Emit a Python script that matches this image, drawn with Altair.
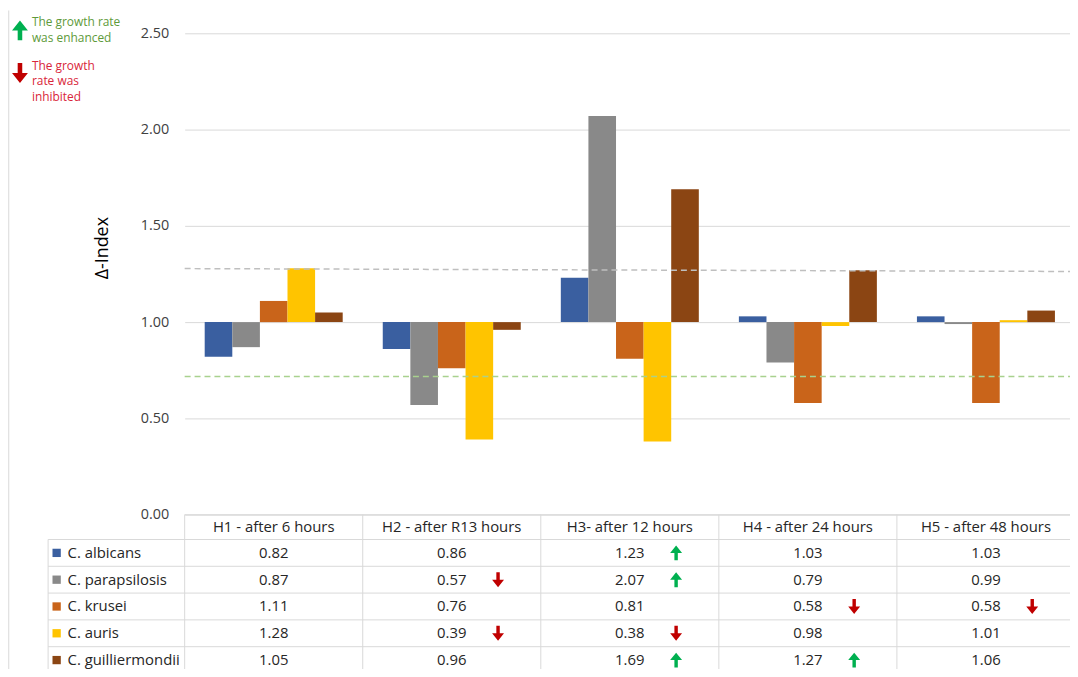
import altair as alt
import pandas as pd

# ---------------- data ----------------
categories = ["H1 - after 6 hours", "H2 - after R13 hours", "H3- after 12 hours",
              "H4 - after 24 hours", "H5 - after 48 hours"]
species = ["C. albicans", "C. parapsilosis", "C. krusei", "C. auris", "C. guilliermondii"]
albicans = [0.82, 0.86, 1.23, 1.03, 1.03]
parapsilosis = [0.87, 0.57, 2.07, 0.79, 0.99]
krusei = [1.11, 0.76, 0.81, 0.58, 0.58]
auris = [1.28, 0.39, 0.38, 0.98, 1.01]
guilliermondii = [1.05, 0.96, 1.69, 1.27, 1.06]
series_values = [albicans, parapsilosis, krusei, auris, guilliermondii]
colors = ["#3A5FA0", "#898989", "#C9641A", "#FFC400", "#8B4513"]

# cells flagged with arrows: (species, category index)
arrows_up = [("C. albicans", 2), ("C. parapsilosis", 2), ("C. guilliermondii", 2), ("C. guilliermondii", 3)]
arrows_down = [("C. parapsilosis", 1), ("C. auris", 1), ("C. auris", 2), ("C. krusei", 3), ("C. krusei", 4)]

upper_threshold = [1.278, 1.263]   # start, end of the grey dashed line
lower_threshold = 0.718
baseline = 1.0
y_ticks = [0.0, 0.5, 1.0, 1.5, 2.0, 2.5]
legend_up = ["The growth rate", "was enhanced"]
legend_down = ["The growth", "rate was", "inhibited"]

# ---------------- layout ----------------
FONT = "Open Sans"
W, H = 892, 638
SPAN = 897
PX = 194.0
Y_MAX = 2.5
Y_MIN = Y_MAX - H / PX
HEADER_H = 25 / PX
ROW_H = 27 / PX
LABEL_EDGE = -0.767
BOTTOM = Y_MIN - 0.3
TOP = Y_MAX + 23 / PX
GRID = "#D9D9D9"
GREEN = "#00B050"
RED = "#C00000"
TXT = "#262626"

UP = "M-0.23,1L-0.23,0L-0.8,0L0,-1L0.8,0L0.23,0L0.23,1Z"
DOWN = "M-0.23,-1L-0.23,0L-0.8,0L0,1L0.8,0L0.23,0L0.23,-1Z"

yscale = alt.Scale(domain=[Y_MIN, Y_MAX], nice=False, zero=False)
xq = alt.Scale(domain=[0, 5], range=[0, SPAN], nice=False, zero=False)


def row_center(j):
    return -(HEADER_H + ROW_H * (j + 0.5))


# ---------------- tables ----------------
bar_df = pd.DataFrame([
    {"category": c, "species": s, "value": vals[i]}
    for s, vals in zip(species, series_values)
    for i, c in enumerate(categories)
])

header_df = pd.DataFrame({"x": [i + 0.5 for i in range(5)],
                          "y": [-HEADER_H / 2] * 5,
                          "text": categories})

cells_df = pd.DataFrame([
    {"x": i + 0.5, "y": row_center(j), "text": f"{vals[i]:.2f}"}
    for j, vals in enumerate(series_values)
    for i in range(5)
])

labels_df = pd.DataFrame({"species": species,
                          "xs": [-0.719] * 5,
                          "xt": [-0.658] * 5,
                          "y": [row_center(j) for j in range(5)]})

lines = [{"x": 0, "x2": 5, "y": 0.0, "y2": 0.0}]
for k in range(6):
    yy = -(HEADER_H + ROW_H * k)
    lines.append({"x": LABEL_EDGE, "x2": 5, "y": yy, "y2": yy})
lines.append({"x": LABEL_EDGE, "x2": LABEL_EDGE, "y": -HEADER_H, "y2": BOTTOM})
for i in range(6):
    lines.append({"x": i, "x2": i, "y": 0.0, "y2": BOTTOM})
lines.append({"x": -0.988, "x2": -0.988, "y": TOP, "y2": BOTTOM})
lines_df = pd.DataFrame(lines)

up_df = pd.DataFrame([{"x": i + 0.76, "y": row_center(species.index(s))} for s, i in arrows_up])
down_df = pd.DataFrame([{"x": i + 0.76, "y": row_center(species.index(s))} for s, i in arrows_down])

thr_grey = pd.DataFrame({"x": [0], "x2": [5], "y": [upper_threshold[0]], "y2": [upper_threshold[1]]})
thr_green = pd.DataFrame({"x": [0], "x2": [5], "y": [lower_threshold], "y2": [lower_threshold]})

leg_up_txt = pd.DataFrame({"x": [-0.858] * 2, "y": [2.557, 2.474], "text": legend_up})
leg_down_txt = pd.DataFrame({"x": [-0.858] * 3, "y": [2.330, 2.253, 2.170], "text": legend_down})
leg_up_arrow = pd.DataFrame({"x": [-0.925], "y": [2.515]})
leg_down_arrow = pd.DataFrame({"x": [-0.925], "y": [2.294]})

# ---------------- layers ----------------
yaxis = alt.Axis(values=y_ticks, format=".2f", grid=True, gridColor=GRID, gridWidth=1,
                 domain=False, ticks=False, labelPadding=16, labelFont=FONT,
                 labelFontSize=14.5, labelColor="#404040", title="Δ-Index",
                 titleFont=FONT, titleFontSize=18, titleFontWeight="normal",
                 titleColor="#000000", titleX=-83, titleY=216,
                 titleAlign="center", titleBaseline="middle")

color_scale = alt.Scale(domain=species, range=colors)

bars = alt.Chart(bar_df).mark_bar().encode(
    x=alt.X("category:N", sort=categories,
            scale=alt.Scale(domain=categories, range=[0, SPAN], paddingInner=0.225, paddingOuter=0.1125),
            axis=None),
    xOffset=alt.XOffset("species:N", sort=species,
                        scale=alt.Scale(domain=species, paddingInner=0, paddingOuter=0)),
    y=alt.Y("value:Q", scale=yscale, axis=yaxis),
    y2=alt.datum(baseline),
    color=alt.Color("species:N", scale=color_scale, legend=None),
)


def qenc(chart, with_x2=False, with_y2=False, xfield="x"):
    enc = dict(x=alt.X(f"{xfield}:Q", scale=xq, axis=None), y=alt.Y("y:Q", scale=yscale, axis=yaxis))
    if with_x2:
        enc["x2"] = alt.X2("x2:Q")
    if with_y2:
        enc["y2"] = alt.Y2("y2:Q")
    return chart.encode(**enc)


rules = qenc(alt.Chart(lines_df).mark_rule(color=GRID, strokeWidth=1), True, True)
grey_thr = qenc(alt.Chart(thr_grey).mark_rule(color="#BFBFBF", strokeWidth=1.5, strokeDash=[6, 4]), True, True)
green_thr = qenc(alt.Chart(thr_green).mark_rule(color="#A9D18E", strokeWidth=1.5, strokeDash=[6, 4]), True, True)

header = qenc(alt.Chart(header_df).mark_text(font=FONT, fontSize=15, color=TXT, baseline="middle")).encode(text="text:N")
cells = qenc(alt.Chart(cells_df).mark_text(font=FONT, fontSize=15, color=TXT, baseline="middle")).encode(text="text:N")

squares = qenc(alt.Chart(labels_df).mark_square(size=70, opacity=1, filled=True), xfield="xs").encode(
    color=alt.Color("species:N", scale=color_scale, legend=None),
)
label_text = qenc(alt.Chart(labels_df).mark_text(font=FONT, fontSize=15, color=TXT,
                                                 align="left", baseline="middle"), xfield="xt").encode(
    text="species:N",
)

up_marks = qenc(alt.Chart(up_df).mark_point(shape=UP, filled=True, size=225, color=GREEN, opacity=1, strokeWidth=0))
down_marks = qenc(alt.Chart(down_df).mark_point(shape=DOWN, filled=True, size=225, color=RED, opacity=1, strokeWidth=0))

leg_up_a = qenc(alt.Chart(leg_up_arrow).mark_point(shape=UP, filled=True, size=400, color=GREEN, opacity=1, strokeWidth=0))
leg_down_a = qenc(alt.Chart(leg_down_arrow).mark_point(shape=DOWN, filled=True, size=400, color=RED, opacity=1, strokeWidth=0))
leg_up_t = qenc(alt.Chart(leg_up_txt).mark_text(font=FONT, fontSize=12, color="#5E9A3A",
                                                align="left", baseline="middle")).encode(text="text:N")
leg_down_t = qenc(alt.Chart(leg_down_txt).mark_text(font=FONT, fontSize=12, color="#D9263A",
                                                    align="left", baseline="middle")).encode(text="text:N")

chart = alt.layer(
    rules, bars, grey_thr, green_thr, header, cells, squares, label_text,
    up_marks, down_marks, leg_up_a, leg_down_a, leg_up_t, leg_down_t,
).resolve_scale(x="independent").properties(
    width=W, height=H,
    padding={"left": 178, "top": 23, "right": 0, "bottom": 0},
    autosize=alt.AutoSizeParams(type="none"),
    background="white",
).configure_view(stroke=None)

chart.save("out.html", embed_options={"renderer": "svg", "actions": False})
